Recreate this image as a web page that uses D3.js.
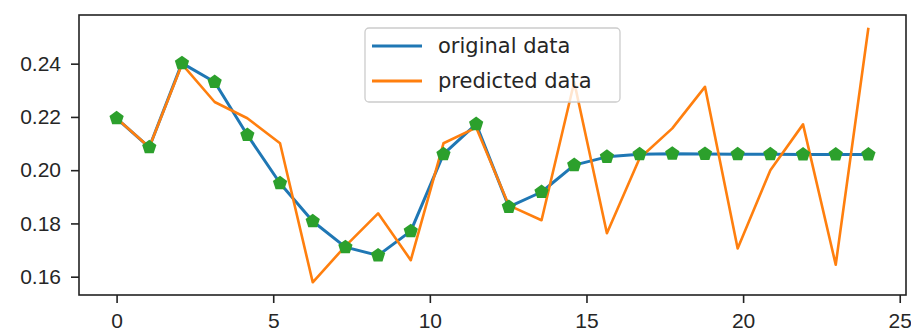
<!DOCTYPE html>
<html>
<head>
<meta charset="utf-8">
<script src="https://cdn.jsdelivr.net/npm/d3@7"></script>
<style>
  body { margin: 0; background: #fff; }
  svg { display: block; font-family: "DejaVu Sans", sans-serif; }
</style>
</head>
<body>
<svg id="chart" width="911" height="331"></svg>
<script>
// index of each sample, spread over 0..24
const steps = d3.range(24);
const original = [0.2195, 0.2086, 0.2402, 0.2331, 0.2132, 0.1951, 0.1808, 0.1711, 0.1680, 0.1771,
  0.2060, 0.2173, 0.1862, 0.1918, 0.2019, 0.2050, 0.2060, 0.2062, 0.2061, 0.2060,
  0.2060, 0.2059, 0.2059, 0.2059];
const predicted = [0.2195, 0.2086, 0.2398, 0.2256, 0.2195, 0.2101, 0.1579, 0.1715, 0.1838, 0.1662,
  0.2101, 0.2160, 0.1868, 0.1812, 0.2331, 0.1763, 0.2045, 0.2157, 0.2313, 0.1706,
  0.2000, 0.2172, 0.1645, 0.2535];
const xTicks = [0, 5, 10, 15, 20, 25];
const yTicks = [0.16, 0.18, 0.20, 0.22, 0.24];
const legendLabels = ["original data", "predicted data"];

const colors = { original: "#1f77b4", predicted: "#ff7f0e", marker: "#2ca02c" };
const margin = { top: 15, right: 5, bottom: 36, left: 79 };
const width = 911 - margin.left - margin.right;
const height = 331 - margin.top - margin.bottom;

const xs = steps.map(i => i * 24 / 23);

const svg = d3.select("#chart");
const g = svg.append("g").attr("transform", `translate(${margin.left},${margin.top})`);

// matplotlib-style 5% margins
const xPad = 24 * 0.05;
const x = d3.scaleLinear().domain([-xPad, 24 + xPad]).range([0, width]);
const allY = original.concat(predicted);
const yMin = d3.min(allY), yMax = d3.max(allY);
const yPad = (yMax - yMin) * 0.05;
const y = d3.scaleLinear().domain([yMin - yPad, yMax + yPad]).range([height, 0]);

const line = d3.line().x((d, i) => x(xs[i])).y(d => y(d));

g.append("path").datum(original)
  .attr("fill", "none").attr("stroke", colors.original)
  .attr("stroke-width", 3).attr("stroke-linejoin", "round")
  .attr("d", line);

g.append("path").datum(predicted)
  .attr("fill", "none").attr("stroke", colors.predicted)
  .attr("stroke-width", 2.6).attr("stroke-linejoin", "round")
  .attr("d", line);

// pentagon markers
const pentagon = r => d3.range(5).map(k => {
  const a = -Math.PI / 2 + k * 2 * Math.PI / 5;
  return [r * Math.cos(a), r * Math.sin(a)];
});
const pent = "M" + pentagon(7.5).join("L") + "Z";
g.selectAll(".marker").data(original).join("path")
  .attr("class", "marker")
  .attr("d", pent)
  .attr("transform", (d, i) => `translate(${x(xs[i])},${y(d)})`)
  .attr("fill", colors.marker);

// axes
const xAxis = g.append("g").attr("transform", `translate(0,${height})`)
  .call(d3.axisBottom(x).tickValues(xTicks).tickFormat(d3.format("d")).tickSize(8).tickPadding(10).tickSizeOuter(0));
const yAxis = g.append("g")
  .call(d3.axisLeft(y).tickValues(yTicks).tickFormat(d3.format(".2f")).tickSize(8).tickPadding(10).tickSizeOuter(0));

[xAxis, yAxis].forEach(a => {
  a.select(".domain").remove();
  a.selectAll(".tick line").attr("stroke", "#222").attr("stroke-width", 1.6);
  a.selectAll(".tick text").attr("fill", "#262626").style("font-size", "21px");
});

g.append("rect")
  .attr("width", width).attr("height", height)
  .attr("fill", "none").attr("stroke", "#222").attr("stroke-width", 1.6);

// legend
const legend = svg.append("g").attr("transform", "translate(365,28)");
legend.append("rect")
  .attr("width", 255).attr("height", 74).attr("rx", 4)
  .attr("fill", "#fff").attr("fill-opacity", 0.8)
  .attr("stroke", "#ccc").attr("stroke-width", 1.3);
const legendColors = [colors.original, colors.predicted];
legendLabels.forEach((label, i) => {
  const ly = 18 + i * 35;
  legend.append("line")
    .attr("x1", 7).attr("x2", 57).attr("y1", ly).attr("y2", ly)
    .attr("stroke", legendColors[i]).attr("stroke-width", 3);
  legend.append("text")
    .attr("x", 73).attr("y", ly).attr("dy", "0.35em")
    .attr("fill", "#262626").style("font-size", "21px")
    .text(label);
});
</script>
</body>
</html>
